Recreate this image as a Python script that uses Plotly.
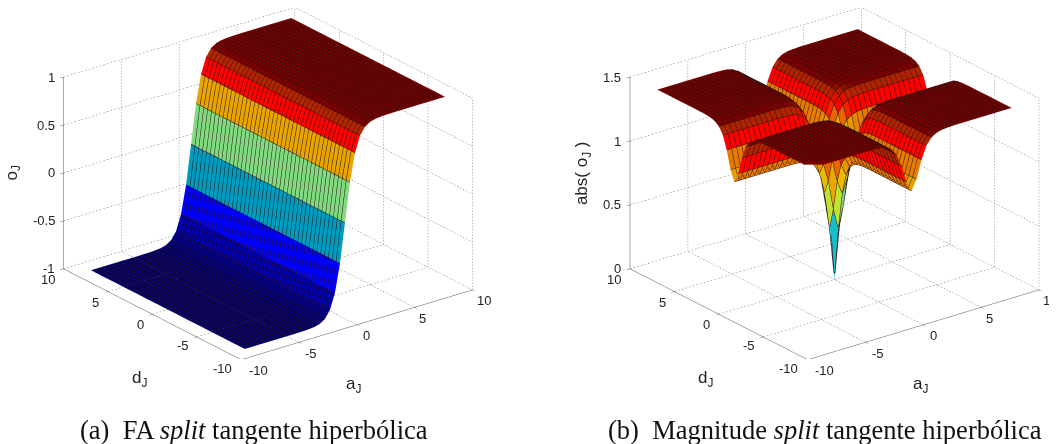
import plotly.graph_objects as go

# --- data -----------------------------------------------------------------
a_grid = [-8.66, -8.227, -7.794, -7.361, -6.928, -6.495, -6.062, -5.629, -5.196, -4.763, -4.33,
          -3.897, -3.464, -3.031, -2.598, -2.165, -1.732, -1.299, -0.866, -0.433, 0.0,
          0.433, 0.866, 1.299, 1.732, 2.165, 2.598, 3.031, 3.464, 3.897, 4.33,
          4.763, 5.196, 5.629, 6.062, 6.495, 6.928, 7.361, 7.794, 8.227, 8.66]
d_grid = list(a_grid)
o_profile = [-1.0, -1.0, -1.0, -1.0, -1.0, -1.0, -1.0, -1.0, -1.0, -1.0, -1.0, -0.999, -0.998, -0.995,
             -0.989, -0.974, -0.939, -0.862, -0.699, -0.408, 0.0, 0.408, 0.699, 0.862, 0.939, 0.974,
             0.989, 0.995, 0.998, 0.999, 1.0, 1.0, 1.0, 1.0, 1.0, 1.0, 1.0, 1.0, 1.0, 1.0, 1.0]
# |o_J| by |a| step (rows) and |d| step (columns); the last entry holds out to the surface edge
mag_quadrant = [
    [0.0, 0.408, 0.699, 0.862, 0.939, 0.974, 0.989, 0.995, 0.998, 0.999],
    [0.408, 0.577, 0.810, 0.954, 1.024, 1.056, 1.070, 1.075, 1.078, 1.079],
    [0.699, 0.810, 0.989, 1.110, 1.171, 1.199, 1.211, 1.216, 1.219, 1.219],
    [0.862, 0.954, 1.110, 1.219, 1.275, 1.301, 1.312, 1.316, 1.319, 1.319],
    [0.939, 1.024, 1.171, 1.275, 1.328, 1.353, 1.364, 1.368, 1.370, 1.371],
    [0.974, 1.056, 1.199, 1.301, 1.353, 1.378, 1.388, 1.392, 1.395, 1.395],
    [0.989, 1.070, 1.211, 1.312, 1.364, 1.388, 1.399, 1.403, 1.405, 1.406],
    [0.995, 1.075, 1.216, 1.316, 1.368, 1.392, 1.403, 1.407, 1.409, 1.410],
    [0.998, 1.078, 1.219, 1.319, 1.370, 1.395, 1.405, 1.409, 1.411, 1.412],
    [0.999, 1.079, 1.219, 1.319, 1.371, 1.395, 1.406, 1.410, 1.412, 1.413],
]
plane_ticks = [-10, -5, 0, 5, 10]
z_ticks_a = [-1, -0.5, 0, 0.5, 1]
z_ticks_b = [0, 0.5, 1, 1.5]
captions = ["(a)  FA <i>split</i> tangente hiperbólica",
            "(b)  Magnitude <i>split</i> tangente hiperbólica"]

# colour map (normalised height -> rgb)
cmap = [(0.0, (0, 0, 110)), (0.05, (0, 0, 150)), (0.15, (0, 0, 255)), (0.3, (0, 160, 190)),
        (0.41, (25, 190, 205)), (0.5, (128, 218, 128)), (0.57, (190, 228, 50)), (0.65, (232, 205, 0)),
        (0.71, (232, 160, 0)), (0.78, (230, 110, 0)), (0.85, (255, 0, 0)), (0.88, (255, 0, 0)),
        (0.93, (180, 38, 0)), (0.97, (125, 0, 0)), (1.0, (118, 0, 0))]


def colour(t):
    t = max(0.0, min(1.0, t))
    for (t0, c0), (t1, c1) in zip(cmap, cmap[1:]):
        if t <= t1:
            f = (t - t0) / (t1 - t0)
            return "rgb(%d,%d,%d)" % tuple(round(u + f * (v - u)) for u, v in zip(c0, c1))
    return "rgb(118,0,0)"


def surface_traces(z, zmin, zmax, scene):
    na, nd = len(a_grid), len(d_grid)
    xs, ys, zs, ii, jj, kk, fc = [], [], [], [], [], [], []
    for i in range(na):
        for j in range(nd):
            xs.append(a_grid[i]); ys.append(d_grid[j]); zs.append(z[i][j])
    for i in range(na - 1):
        for j in range(nd - 1):
            p = i * nd + j
            q = (i + 1) * nd + j
            col = colour((z[i][j] - zmin) / (zmax - zmin))
            ii += [p, p]; jj += [q, q + 1]; kk += [q + 1, p + 1]; fc += [col, col]
    mesh = go.Mesh3d(x=xs, y=ys, z=zs, i=ii, j=jj, k=kk, facecolor=fc, flatshading=True,
                     lighting=dict(ambient=1, diffuse=0, specular=0, roughness=1, fresnel=0),
                     hoverinfo="skip", scene=scene, showscale=False)
    style = dict(show=True, color="#2a1010", width=1, highlight=False)
    wires = go.Surface(x=a_grid, y=d_grid, z=[[z[i][j] for i in range(na)] for j in range(nd)],
                       hidesurface=True, showscale=False, hoverinfo="skip", scene=scene,
                       contours=dict(x=dict(style, start=a_grid[0], end=a_grid[-1], size=a_grid[1] - a_grid[0]),
                                     y=dict(style, start=d_grid[0], end=d_grid[-1], size=d_grid[1] - d_grid[0]),
                                     z=dict(show=False, highlight=False)))
    return [mesh, wires]


def grid_trace(z_ticks, scene):
    lo, hi = min(z_ticks), max(z_ticks)
    xs, ys, zs = [], [], []
    dots = 64
    def seg(p, q):
        for s in range(dots):
            t0, t1 = s / dots, (s + 0.45) / dots
            xs.extend([p[0] + t0 * (q[0] - p[0]), p[0] + t1 * (q[0] - p[0]), None])
            ys.extend([p[1] + t0 * (q[1] - p[1]), p[1] + t1 * (q[1] - p[1]), None])
            zs.extend([p[2] + t0 * (q[2] - p[2]), p[2] + t1 * (q[2] - p[2]), None])
    L, R = plane_ticks[0], plane_ticks[-1]
    for t in plane_ticks:
        seg((t, L, lo), (t, R, lo)); seg((L, t, lo), (R, t, lo))
        seg((t, R, lo), (t, R, hi)); seg((R, t, lo), (R, t, hi))
    for zt in z_ticks:
        seg((L, R, zt), (R, R, zt)); seg((R, L, zt), (R, R, zt))
    return go.Scatter3d(x=xs, y=ys, z=zs, mode="lines", line=dict(color="#777777", width=1),
                        hoverinfo="skip", showlegend=False, scene=scene)


tick_font = dict(family="Liberation Sans, Arial, sans-serif", size=13, color="#222222")
title_font = dict(family="Liberation Sans, Arial, sans-serif", size=17, color="#222222")


def scene_notes(z_ticks, ztitle, title_shift):
    lo, hi = z_ticks[0], z_ticks[-1]
    L, R = plane_ticks[0], plane_ticks[-1]
    def note(x, y, z, text, dx, dy, font=tick_font, **kw):
        return dict(x=x, y=y, z=z, text=text, showarrow=False, xshift=dx, yshift=-dy, font=font, **kw)
    out = []
    for zt in z_ticks:
        out.append(note(L, R, zt, str(zt), -7, 0, xanchor="right"))
    d_off = {-10: (-19, 9), -5: (-14, 9), 0: (-12, 10), 5: (-12, 11), 10: (-16, 11)}
    a_off = {-10: (17, 11), -5: (12, 11), 0: (10, 11), 5: (8, 11), 10: (11, 11)}
    for t in plane_ticks:
        out.append(note(L, t, lo, str(t), *d_off[t]))
        out.append(note(t, L, lo, str(t), *a_off[t]))
    out.append(note(0, L, lo, "a<sub>J</sub>", -3, 60, font=title_font))
    out.append(note(L, 0, lo, "d<sub>J</sub>", -13, 65, font=title_font))
    out.append(note(L, R, (lo + hi) / 2, ztitle, title_shift, 0, font=title_font, textangle=-90))
    return out


def scene_layout(dom_x, dom_y, z_ticks, ztitle, title_shift):
    base = dict(showgrid=False, showbackground=False, zeroline=False, showline=True, linecolor="#555555",
                linewidth=1, ticks="inside", ticklen=4, tickcolor="#555555", showticklabels=False,
                showspikes=False, title=dict(text=""))
    return dict(
        domain=dict(x=dom_x, y=dom_y),
        xaxis=dict(base, range=[-10, 10], tickvals=plane_ticks),
        yaxis=dict(base, range=[-10, 10], tickvals=plane_ticks),
        zaxis=dict(base, range=[z_ticks[0], z_ticks[-1]], tickvals=z_ticks),
        aspectmode="manual", aspectratio=dict(x=1.662, y=1.662, z=1.188),
        annotations=scene_notes(z_ticks, ztitle, title_shift),
        camera=dict(projection=dict(type="orthographic"), eye=dict(x=-0.613, y=-0.798, z=0.43),
                    center=dict(x=0, y=0, z=0), up=dict(x=0, y=0, z=1)),
    )


o_surface = [[o_profile[i]] * len(d_grid) for i in range(len(a_grid))]
mag_surface = [[mag_quadrant[min(abs(i - 20), 9)][min(abs(j - 20), 9)] for j in range(len(d_grid))]
               for i in range(len(a_grid))]

fig = go.Figure()
for t in surface_traces(o_surface, -1, 1, "scene"):
    fig.add_trace(t)
fig.add_trace(grid_trace(z_ticks_a, "scene"))
for t in surface_traces(mag_surface, 0, 1.413, "scene2"):
    fig.add_trace(t)
fig.add_trace(grid_trace(z_ticks_b, "scene2"))

caption_font = dict(family="Liberation Serif, Times New Roman, serif", size=26.5, color="#111111")
fig.update_layout(
    width=1057, height=444, margin=dict(l=0, r=0, t=0, b=0), paper_bgcolor="white", showlegend=False,
    scene=scene_layout([0, 0.492], [0.2095, 1], z_ticks_a, "o<sub>J</sub>", -51),
    scene2=scene_layout([0.564, 1], [0.2095, 1], z_ticks_b, "abs( o<sub>J</sub> )", -47),
    annotations=[
        dict(text=captions[0], x=245.5 / 1057, y=22 / 444, xref="paper", yref="paper", xanchor="center",
             yanchor="middle", showarrow=False, font=caption_font),
        dict(text=captions[1], x=816.5 / 1057, y=22 / 444, xref="paper", yref="paper", xanchor="center",
             yanchor="middle", showarrow=False, font=caption_font),
    ],
)
fig.write_html("out.html")
